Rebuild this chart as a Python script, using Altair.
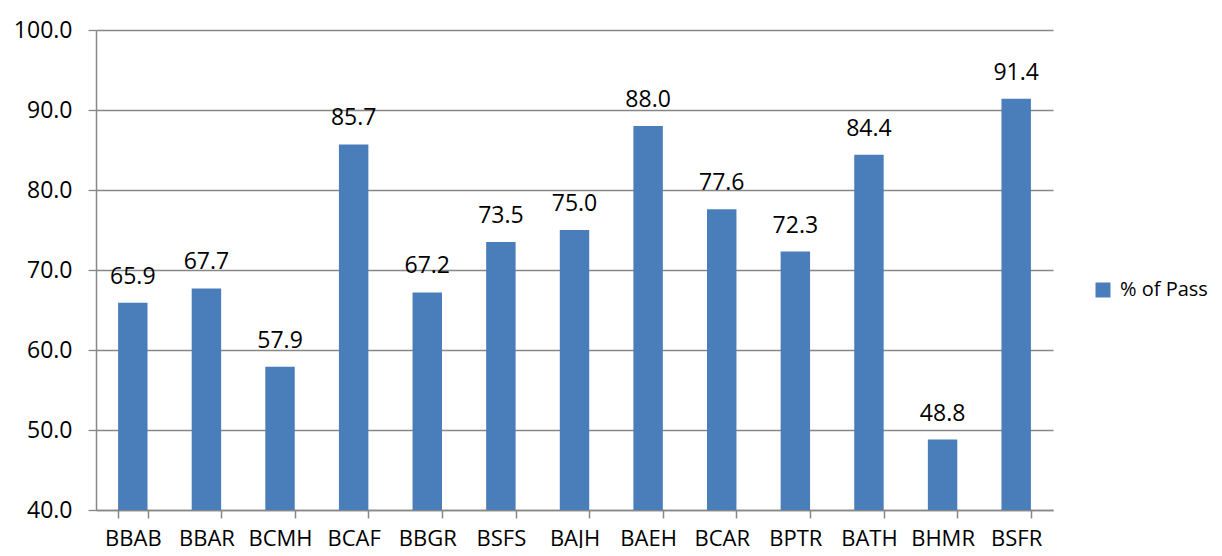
import altair as alt
import pandas as pd

categories = ["BBAB", "BBAR", "BCMH", "BCAF", "BBGR", "BSFS", "BAJH",
              "BAEH", "BCAR", "BPTR", "BATH", "BHMR", "BSFR"]
pass_pct = [65.9, 67.7, 57.9, 85.7, 67.2, 73.5, 75.0, 88.0, 77.6, 72.3, 84.4, 48.8, 91.4]
series_name = "% of Pass"
y_ticks = [40, 50, 60, 70, 80, 90, 100]

df = pd.DataFrame({"cat": categories, "val": pass_pct, "series": series_name})

FONT = "Open Sans"
GRID = "#878787"
BLUE = "#4a7ebb"

x = alt.X("cat:N", sort=categories, title=None,
          scale=alt.Scale(paddingInner=0.6, paddingOuter=0.3),
          axis=alt.Axis(labelAngle=0, labelFontSize=22, labelFont=FONT, labelColor="black",
                        domainColor=GRID, domainWidth=1.5, tickColor=GRID, tickWidth=1.5,
                        tickSize=8, tickBand="extent", labelPadding=10, grid=False))
y = alt.Y("val:Q", title=None,
          scale=alt.Scale(domain=[40, 100], zero=False, nice=False),
          axis=alt.Axis(values=y_ticks, format=".1f", labelFontSize=23, labelFont=FONT,
                        labelColor="black", domainColor=GRID, domainWidth=1.5,
                        tickColor=GRID, tickWidth=1.3, tickSize=8, labelPadding=16,
                        grid=True, gridColor=GRID, gridWidth=1.3))

bars = alt.Chart(df).mark_bar(clip=True).encode(
    x=x, y=y,
    color=alt.Color("series:N", scale=alt.Scale(range=[BLUE]),
                    legend=alt.Legend(title=None, orient="none", legendX=997, legendY=250,
                                      symbolType="square", symbolSize=225,
                                      symbolStrokeWidth=0, labelFontSize=20,
                                      labelFont=FONT, labelColor="black", labelOffset=7,
                                      padding=0)),
)

labels = alt.Chart(df).mark_text(baseline="alphabetic", dy=-19, fontSize=23,
                                 font=FONT, color="black").encode(
    x=alt.X("cat:N", sort=categories),
    y="val:Q",
    text=alt.Text("val:Q", format=".1f"),
)

chart = alt.layer(bars, labels).properties(
    width=957, height=480,
    autosize=alt.AutoSizeParams(type="none"),
    padding={"left": 88, "top": 22, "right": 161, "bottom": 38},
).configure(background="white", view=alt.ViewConfig(stroke=None))

chart.save("out.html", embed_options={"renderer": "svg", "actions": False})
